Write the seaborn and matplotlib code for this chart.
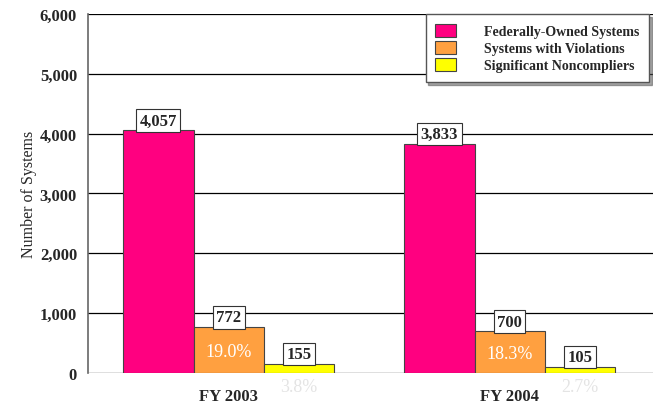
import pandas as pd
import numpy as np
import seaborn as sns
import matplotlib.pyplot as plt

sns.set_style("white")
plt.rcParams['font.family'] = ['Liberation Serif', 'DejaVu Serif']

years = ["FY 2003", "FY 2004"]
series = ["Federally-Owned Systems", "Systems with Violations", "Significant Noncompliers"]
federal = [4057, 3833]
violations = [772, 700]
noncompliers = [155, 105]
pct_violations = ["19.0%", "18.3%"]
pct_noncompliers = ["3.8%", "2.7%"]
colors = ["#ff0080", "#ffa040", "#ffff00"]

df = pd.DataFrame({
    "year": years * 3,
    "series": [s for s in series for _ in years],
    "count": federal + violations + noncompliers,
})

fig = plt.figure(figsize=(6.53, 4.06), dpi=100)
ax = fig.add_axes([0.135, 0.079, 0.865, 0.884])

sns.barplot(data=df, x="year", y="count", hue="series", hue_order=series,
            palette=colors, width=0.75, edgecolor="#444444", linewidth=0.8,
            saturation=1, ax=ax, zorder=3)

ax.set_ylim(0, 6000)
ax.set_xlim(-0.5, 1.51)
ax.set_yticks(range(0, 6001, 1000))
ax.set_yticklabels([f"{v:,}" for v in range(0, 6001, 1000)], fontweight="bold", fontsize=12)
ax.set_xticks([0, 1])
ax.set_xticklabels(years, fontweight="bold", fontsize=12)
ax.tick_params(axis="both", length=5, width=0.8, color="#555555", pad=3)
ax.tick_params(axis="x", pad=6)
ax.set_xlabel("")
ax.set_ylabel("Number of Systems", fontsize=11.5, labelpad=2)
ax.yaxis.grid(True, color="black", linewidth=0.9, zorder=0)
ax.set_axisbelow(True)
for s in ["top", "right", "bottom"]:
    ax.spines[s].set_visible(False)
ax.spines["left"].set_color("#666666")
ax.spines["left"].set_linewidth(1.2)

# value boxes sitting on the bars, plus percentages
for cont, vals in zip(ax.containers, [federal, violations, noncompliers]):
    for bar, v in zip(cont, vals):
        cx = bar.get_x() + bar.get_width() / 2
        ax.text(cx, v + 25, f"{v:,}", ha="center", va="bottom", fontsize=12,
                fontweight="bold", zorder=5,
                bbox=dict(boxstyle="square,pad=0.2", fc="white", ec="#333333", lw=0.8))

for bar, p in zip(ax.containers[1], pct_violations):
    cx = bar.get_x() + bar.get_width() / 2
    ax.text(cx, bar.get_height() / 2 - 30, p, ha="center", va="center",
            fontsize=13, color="white", zorder=5)
for bar, p in zip(ax.containers[2], pct_noncompliers):
    cx = bar.get_x() + bar.get_width() / 2
    ax.text(cx, -230, p, ha="center", va="center", fontsize=13,
            color="#e4e4e4", zorder=5, clip_on=False)

ax.legend(loc="upper right", bbox_to_anchor=(0.993, 1.0), frameon=True,
          shadow=True, fancybox=False, edgecolor="#555555",
          prop={"weight": "bold", "size": 10}, handlelength=1.5,
          handleheight=1.1, borderpad=0.7, labelspacing=0.2,
          handletextpad=2.0, borderaxespad=0, framealpha=1)

fig.savefig("out.png", dpi=100)
